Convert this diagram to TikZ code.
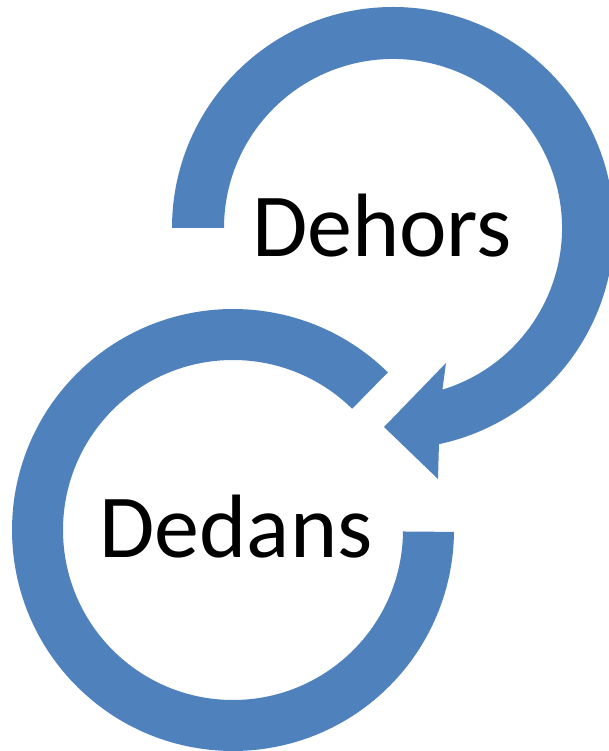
\documentclass[tikz,border=0pt]{standalone}
\usepackage{fontspec}
\setmainfont{Carlito}
\usetikzlibrary{calc}
\definecolor{ringblue}{HTML}{4F81BD}
\begin{document}
\begin{tikzpicture}[x=1pt,y=1pt,
  ring/.style={fill=ringblue,draw=none},
  label/.style={font=\fontsize{90}{100}\selectfont,inner sep=0pt,anchor=base,text=black}]
\useasboundingbox (0,0) rectangle (609,751);
\coordinate (Ct) at (393,523);
\coordinate (Cb) at (233,221);
% top ring with arrowhead
\path[ring] ($(Ct)+(180:221)$) arc[start angle=180,end angle=-78,radius=221]
  -- (438,272) -- (384,324) -- (446,388)
  -- ($(Ct)+(-73:169)$) arc[start angle=-73,end angle=180,radius=169] -- cycle;
% bottom ring
\path[ring] ($(Cb)+(45.5:221)$) arc[start angle=45.5,end angle=359.5,radius=221]
  -- ($(Cb)+(359.5:170)$) arc[start angle=359.5,end angle=45.5,radius=170] -- cycle;
\node[label] (dehors) at (382,494) {Dehors};
\node[label] (dedans) at (236,193) {Dedans};
\end{tikzpicture}
\end{document}
